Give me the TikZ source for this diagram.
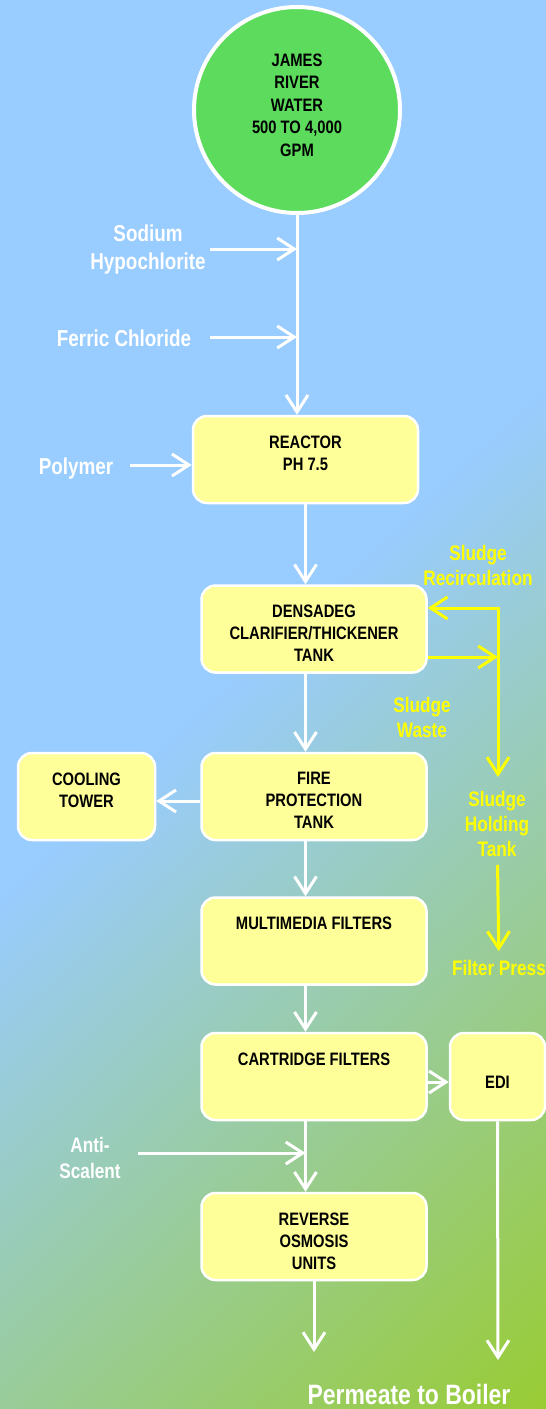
\documentclass[tikz,border=0pt]{standalone}
\usepackage{fontspec}
\setmainfont{Liberation Sans}[FakeStretch=0.82]
\usetikzlibrary{positioning,arrows.meta}
\definecolor{bgblue}{HTML}{99CCFF}
\definecolor{bggreen}{HTML}{99CC33}
\definecolor{riverfill}{HTML}{5CDB5C}
\definecolor{procfill}{HTML}{FFFF99}
\definecolor{sludgeyellow}{HTML}{FFFF00}
\pgfdeclareverticalshading{bgwash}{100bp}{color(0bp)=(bggreen); color(28bp)=(bggreen); color(51.5bp)=(bgblue); color(100bp)=(bgblue)}
\newcommand{\toptext}[3]{\parbox[c][#2][t]{#1}{\centering #3}}

\tikzset{
  >={Straight Barb[length=17pt,width=22pt]},
  proc/.style={draw=white, line width=2.5pt, fill=procfill, rounded corners=14pt, minimum width=225pt, minimum height=87pt, inner sep=0pt, font=\bfseries\fontsize{18pt}{22pt}\selectfont},
  feed/.style={text=white, font=\bfseries\fontsize{23pt}{28pt}\selectfont, align=center, inner sep=2pt},
  sludgetxt/.style={text=sludgeyellow, font=\bfseries\fontsize{21pt}{25pt}\selectfont, align=center, inner sep=2pt},
  flow/.style={draw=white, line width=3pt, ->},
  sludgeflow/.style={flow, draw=sludgeyellow},
}

\begin{document}
\begin{tikzpicture}[x=1pt, y=-1pt]
    % Sfondo
    \useasboundingbox (0,0) rectangle (546,1409);
    \shade[shading=bgwash, shading angle=43.2] (-527,-95.5) rectangle (1073,1504.5);

    % Acqua grezza
    \node[circle, draw=white, line width=4pt, fill=riverfill, minimum size=206pt, inner sep=0pt, font=\bfseries\fontsize{18pt}{22.5pt}\selectfont] (river) at (297,110)
        {\toptext{150pt}{113pt}{JAMES\\RIVER\\WATER\\500 TO 4,000\\GPM}};

    % Dosaggi
    \node[feed] (naocl) at (148,250) {Sodium\\Hypochlorite};
    \node[feed] (fecl) at (124,338) {Ferric Chloride};
    \node[feed] (polymer) at (76,469) {Polymer};
    \coordinate (naocl-in) at (210,249);
    \coordinate (fecl-in) at (210,337);
    \coordinate (poly-in) at (130,465);

    % Linea principale
    \node[proc] (reactor) at (305.5,459.5) {\toptext{215pt}{48pt}{REACTOR\\PH 7.5}};
    \node[proc] (densadeg) at (314,629) {\toptext{215pt}{48pt}{DENSADEG\\CLARIFIER/THICKENER\\TANK}};
    \node[proc] (fire) at (314,796.5) {\toptext{215pt}{48pt}{FIRE\\PROTECTION\\TANK}};
    \node[proc, minimum width=137pt] (cooling) at (86.5,796.5) {\toptext{130pt}{48pt}{COOLING\\TOWER}};
    \node[proc] (multimedia) at (314,941) {\toptext{215pt}{48pt}{MULTIMEDIA FILTERS}};
    \node[proc] (cartridge) at (314,1076.5) {\toptext{215pt}{48pt}{CARTRIDGE FILTERS}};
    \node[proc, minimum width=95pt, text height=24pt, text depth=0pt] (edi) at (497.5,1076.5) {EDI};
    \node[proc] (ro) at (314,1236.5) {\toptext{215pt}{48pt}{REVERSE\\OSMOSIS\\UNITS}};

    \draw[flow] (river.south) -- (river.south |- reactor.north);
    \draw[flow] (naocl-in) -- (naocl-in -| river.south);
    \draw[flow] (fecl-in) -- (fecl-in -| river.south);
    \draw[flow] (poly-in) -- (poly-in -| reactor.west);
    \draw[flow] (reactor.south) -- (reactor.south |- densadeg.north);
    \draw[flow] (reactor.south |- densadeg.south) -- (reactor.south |- fire.north);
    \draw[flow] ([yshift=-4.5pt]fire.west) -- ([yshift=-4.5pt]fire.west -| cooling.east);
    \draw[flow] (reactor.south |- fire.south) -- (reactor.south |- multimedia.north);
    \draw[flow] (reactor.south |- multimedia.south) -- (reactor.south |- cartridge.north);
    \draw[flow] ([yshift=-5.5pt]cartridge.east) -- ([yshift=-5.5pt]cartridge.east -| edi.west);
    \draw[flow] (reactor.south |- cartridge.south) -- (reactor.south |- ro.north);

    % Antiscalante
    \node[feed, font=\bfseries\fontsize{21pt}{26pt}\selectfont] (antiscal) at (90,1158) {Anti-\\Scalent};
    \coordinate (anti-in) at (138,1153);
    \draw[flow] (anti-in) -- (anti-in -| reactor.south);

    % Uscite
    \coordinate (ro-out) at (314,1352);
    \coordinate (edi-out) at (498,1360);
    \draw[flow] (ro.south) -- (ro-out);
    \draw[flow] (edi.south) -- (edi-out);
    \node[feed, font=\bfseries\fontsize{28pt}{32pt}\selectfont, inner sep=1pt] (permeate) at (409,1394) {Permeate to Boiler};

    % Fanghi
    \node[sludgetxt] (recirc-lbl) at (478,565.5) {Sludge\\Recirculation};
    \node[sludgetxt] (waste-lbl) at (422,717) {Sludge\\Waste};
    \node[sludgetxt] (holding) at (497,824) {Sludge\\Holding\\Tank};
    \node[sludgetxt] (press) at (499,968) {Filter Press};
    \coordinate (recirc) at (498,608);
    \coordinate (waste) at (498,657);
    \coordinate (hold-in) at (498,777);
    \draw[sludgeflow, <->] (recirc -| densadeg.east) -- (recirc) -- (hold-in);
    \draw[sludgeflow] (waste -| densadeg.east) -- (waste);
    \draw[sludgeflow, shorten <=6pt, shorten >=7pt] (holding) -- (press);
\end{tikzpicture}
\end{document}
